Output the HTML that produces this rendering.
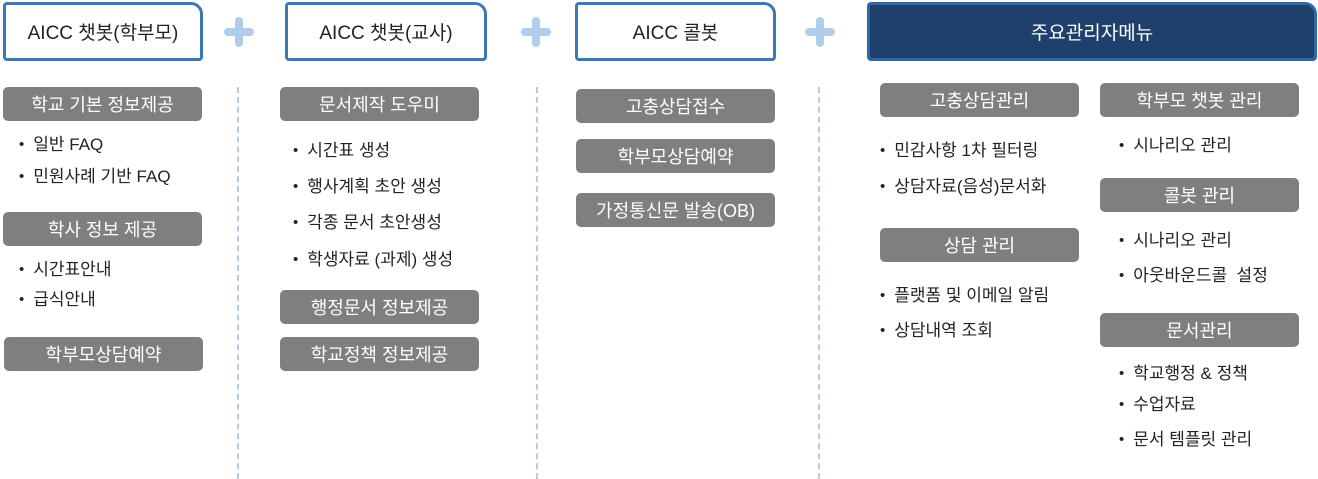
<!DOCTYPE html>
<html><head><meta charset="utf-8"><style>
*{margin:0;padding:0;box-sizing:border-box}
body{width:1318px;height:479px;background:#fff;position:relative;overflow:hidden;font-family:"Liberation Sans","Noto Sans CJK KR",sans-serif}
.h{position:absolute;top:2px;height:59px;border:3px solid #3a78b6;border-radius:4px 12px 4px 4px;display:flex;align-items:center;justify-content:center;font-size:19px;color:#222;background:#fff}
.h.d{background:#1f406c;border-color:#3068a6;color:#fff}
.p{position:absolute;height:34px;width:199px;background:#7f7f7f;border-radius:5px;color:#fff;font-size:18px;display:flex;align-items:center;justify-content:center}
.b{position:absolute;font-size:17px;color:#222;white-space:nowrap;line-height:22px}
.b::before{content:"•";margin-right:9px;font-size:15px;position:relative;top:-1px}
.plus{position:absolute;width:30px;height:30px}
.plus::before,.plus::after{content:"";position:absolute;background:#b0cdea;border-radius:4px}
.plus::before{left:11px;top:0;width:8px;height:30px}
.plus::after{left:0;top:11px;width:30px;height:8px}
.v{position:absolute;top:87px;height:392px;border-left:2px dashed #b3cde8}
</style></head><body>
<div class="h" style="left:3px;width:200px">AICC 챗봇(학부모)</div>
<div class="h" style="left:285px;width:202px">AICC 챗봇(교사)</div>
<div class="h" style="left:575px;width:201px">AICC 콜봇</div>
<div class="h d" style="left:867px;width:450px">주요관리자메뉴</div>
<div class="plus" style="left:224px;top:17px"></div>
<div class="plus" style="left:521px;top:17px"></div>
<div class="plus" style="left:805px;top:17px"></div>
<div class="v" style="left:237px"></div>
<div class="v" style="left:536px"></div>
<div class="v" style="left:818px"></div>

<div class="p" style="left:3px;top:87px">학교 기본 정보제공</div>
<div class="b" style="left:19px;top:134px">일반 FAQ</div>
<div class="b" style="left:19px;top:166px">민원사례 기반 FAQ</div>
<div class="p" style="left:3px;top:212px">학사 정보 제공</div>
<div class="b" style="left:19px;top:259px">시간표안내</div>
<div class="b" style="left:19px;top:289px">급식안내</div>
<div class="p" style="left:4px;top:337px">학부모상담예약</div>

<div class="p" style="left:280px;top:87px">문서제작 도우미</div>
<div class="b" style="left:293px;top:140px">시간표 생성</div>
<div class="b" style="left:293px;top:176px">행사계획 초안 생성</div>
<div class="b" style="left:293px;top:212px">각종 문서 초안생성</div>
<div class="b" style="left:293px;top:249px">학생자료 (과제) 생성</div>
<div class="p" style="left:280px;top:290px">행정문서 정보제공</div>
<div class="p" style="left:280px;top:337px">학교정책 정보제공</div>

<div class="p" style="left:576px;top:89px">고충상담접수</div>
<div class="p" style="left:576px;top:139px">학부모상담예약</div>
<div class="p" style="left:576px;top:193px">가정통신문 발송(OB)</div>

<div class="p" style="left:880px;top:83px">고충상담관리</div>
<div class="b" style="left:880px;top:140px">민감사항 1차 필터링</div>
<div class="b" style="left:880px;top:176px">상담자료(음성)문서화</div>
<div class="p" style="left:880px;top:228px">상담 관리</div>
<div class="b" style="left:880px;top:285px">플랫폼 및 이메일 알림</div>
<div class="b" style="left:880px;top:320px">상담내역 조회</div>

<div class="p" style="left:1100px;top:83px">학부모 챗봇 관리</div>
<div class="b" style="left:1119px;top:135px">시나리오 관리</div>
<div class="p" style="left:1100px;top:178px">콜봇 관리</div>
<div class="b" style="left:1119px;top:230px">시나리오 관리</div>
<div class="b" style="left:1119px;top:265px">아웃바운드콜&nbsp; 설정</div>
<div class="p" style="left:1100px;top:313px">문서관리</div>
<div class="b" style="left:1119px;top:363px">학교행정 &amp; 정책</div>
<div class="b" style="left:1119px;top:394px">수업자료</div>
<div class="b" style="left:1119px;top:429px">문서 템플릿 관리</div>
</body></html>
